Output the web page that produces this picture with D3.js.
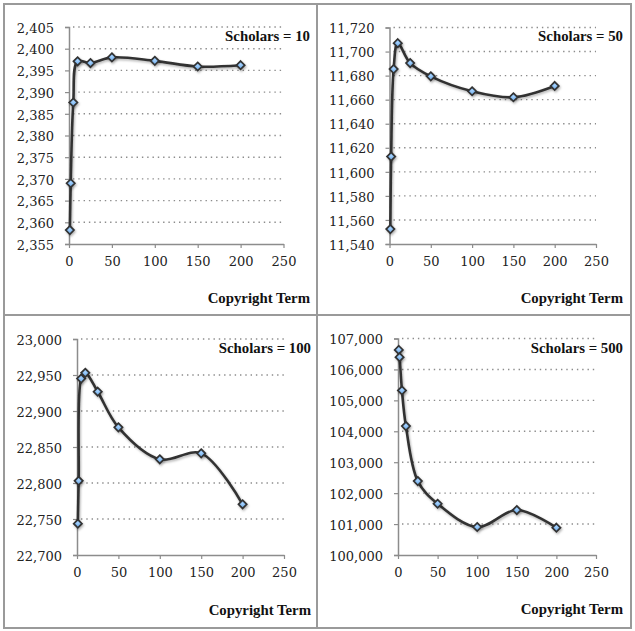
<!DOCTYPE html>
<html><head><meta charset="utf-8">
<script src="https://cdn.jsdelivr.net/npm/d3@7"></script>
<style>
html,body{margin:0;padding:0;background:#fff;}
svg{display:block;}
</style></head>
<body>
<svg id="c" width="635" height="631"></svg>
<script>
// ---- data ----
const terms = [1, 2, 5, 10, 25, 50, 100, 150, 200];
const scholars10  = [2358.2, 2369.0, 2387.6, 2397.1, 2396.7, 2398.0, 2397.2, 2395.9, 2396.2];
const scholars50  = [11552.4, 11612.7, 11685.4, 11707, 11690.4, 11679.4, 11667, 11662, 11671.4];
const scholars100 = [22743.5, 22803, 22945, 22953, 22926.8, 22877.3, 22832.9, 22841.2, 22770.4];
const scholars500 = [106632, 106396, 105320, 104167, 102390, 101657, 100905, 101454, 100883];
const panelTitles = ["Scholars = 10", "Scholars = 50", "Scholars = 100", "Scholars = 500"];
const xTicks = [0, 50, 100, 150, 200, 250];
const yTicks10  = d3.range(2355, 2405.1, 5);
const yTicks50  = d3.range(11540, 11720.1, 20);
const yTicks100 = d3.range(22700, 23000.1, 50);
const yTicks500 = d3.range(100000, 107000.1, 1000);
const xLabel = "Copyright Term";

// ---- layout ----
const panels = [
  {vals: scholars10,  ticks: yTicks10,  title: panelTitles[0], x0: 69,  x1: 283.5, y0: 27,  y1: 244, right: 310, titleY: 41,  labelY: 303},
  {vals: scholars50,  ticks: yTicks50,  title: panelTitles[1], x0: 389.5, x1: 596, y0: 27.5, y1: 244, right: 623, titleY: 41,  labelY: 303},
  {vals: scholars100, ticks: yTicks100, title: panelTitles[2], x0: 77,  x1: 284, y0: 339, y1: 555, right: 311, titleY: 353, labelY: 615},
  {vals: scholars500, ticks: yTicks500, title: panelTitles[3], x0: 398, x1: 596, y0: 338.5, y1: 555, right: 623, titleY: 353, labelY: 614}
];

const svg = d3.select("#c");
const defs = svg.append("defs");
const f = defs.append("filter").attr("id","sh").attr("x","-50%").attr("y","-50%").attr("width","200%").attr("height","200%");
f.append("feDropShadow").attr("dx",1).attr("dy",1.5).attr("stdDeviation",1).attr("flood-color","#000").attr("flood-opacity",0.3);
const rg = defs.append("radialGradient").attr("id","mk").attr("cx","50%").attr("cy","40%").attr("r","60%");
rg.append("stop").attr("offset","0%").attr("stop-color","#a9d4ff");
rg.append("stop").attr("offset","100%").attr("stop-color","#5e9fe0");

// frame
const frameColor = "#9a9a9a";
svg.append("rect").attr("x",4).attr("y",4).attr("width",627).attr("height",624)
  .attr("fill","none").attr("stroke",frameColor).attr("stroke-width",2);
svg.append("line").attr("x1",317).attr("x2",317).attr("y1",4).attr("y2",628).attr("stroke",frameColor).attr("stroke-width",2);
svg.append("line").attr("x1",4).attr("x2",631).attr("y1",315).attr("y2",315).attr("stroke",frameColor).attr("stroke-width",2);

const tickFont = "DejaVu Serif";
const boldFont = "Liberation Serif";

panels.forEach(p => {
  const g = svg.append("g");
  const x = d3.scaleLinear().domain([0, 250]).range([p.x0, p.x1]);
  const y = d3.scaleLinear().domain([p.ticks[0], p.ticks[p.ticks.length-1]]).range([p.y1, p.y0]);

  // grid (dotted)
  g.append("g").selectAll("line").data(p.ticks.slice(1)).join("line")
    .attr("x1", p.x0 + 4).attr("x2", p.x1)
    .attr("y1", d => y(d)).attr("y2", d => y(d))
    .attr("stroke", "#8c8c8c").attr("stroke-width", 1.4).attr("stroke-dasharray", "1.4,3.9");

  // y axis
  const ya = g.append("g").attr("transform", `translate(${p.x0},0)`)
    .call(d3.axisLeft(y).tickValues(p.ticks).tickFormat(d3.format(",")).tickSize(4).tickPadding(11));
  ya.select(".domain").attr("stroke", "#8c8c8c").attr("stroke-width", 1.5);
  ya.selectAll(".tick line").attr("stroke", "#8c8c8c").attr("stroke-width", 1.2);
  ya.selectAll("text").attr("font-family", tickFont).attr("font-size", 13).attr("fill", "#222").attr("dy", "0.4em");

  // x axis
  const xa = g.append("g").attr("transform", `translate(0,${p.y1})`)
    .call(d3.axisBottom(x).tickValues(xTicks).tickSize(4).tickPadding(9).tickSizeOuter(0));
  xa.select(".domain").attr("stroke", "#8c8c8c").attr("stroke-width", 1.5);
  xa.selectAll(".tick line").attr("stroke", "#8c8c8c").attr("stroke-width", 1.2);
  xa.selectAll("text").attr("font-family", tickFont).attr("font-size", 13).attr("fill", "#222");

  // line
  const data = terms.map((t, i) => [t, p.vals[i]]);
  const line = d3.line().x(d => x(d[0])).y(d => y(d[1])).curve(d3.curveCatmullRom.alpha(0.5));
  g.append("path").attr("d", line(data)).attr("fill", "none")
    .attr("stroke", "#333").attr("stroke-width", 2.6).attr("filter", "url(#sh)");

  // markers
  const sym = d3.symbol().type(d3.symbolDiamond2).size(44);
  g.append("g").selectAll("path").data(data).join("path")
    .attr("d", sym)
    .attr("transform", d => `translate(${x(d[0])},${y(d[1])})`)
    .attr("fill", "url(#mk)").attr("stroke", "#333").attr("stroke-width", 1.7)
    .attr("filter", "url(#sh)");

  // titles
  g.append("text").attr("x", p.right).attr("y", p.titleY).attr("text-anchor", "end")
    .attr("font-family", boldFont).attr("font-weight", "bold").attr("font-size", 14.8).attr("fill", "#111")
    .text(p.title);
  g.append("text").attr("x", p.right).attr("y", p.labelY).attr("text-anchor", "end")
    .attr("font-family", boldFont).attr("font-weight", "bold").attr("font-size", 14.8).attr("fill", "#111")
    .text(xLabel);
});
</script>
</body></html>
